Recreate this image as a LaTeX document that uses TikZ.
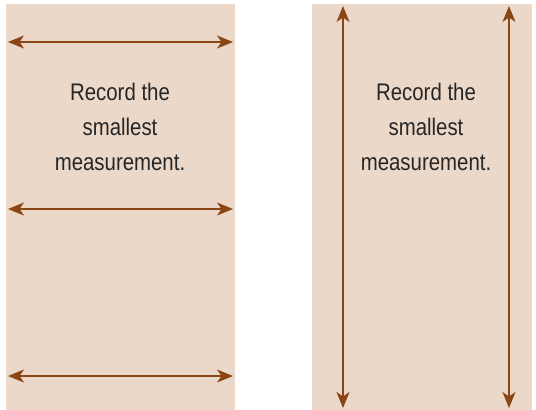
\documentclass[tikz,border=0pt]{standalone}
\usepackage{fontspec}
\setmainfont[FakeStretch=0.85]{Liberation Sans}
\usepackage{tikz}
\usetikzlibrary{arrows.meta}
\definecolor{panelfill}{RGB}{236,216,201}
\definecolor{rulebrown}{RGB}{139,70,22}

\begin{document}
\begin{tikzpicture}[x=1pt, y=-1pt,
  panel/.style={fill=panelfill, draw=none},
  meas/.style={{Stealth[length=16pt,width=13pt,inset=4.5pt]}-{Stealth[length=16pt,width=13pt,inset=4.5pt]},
               draw=rulebrown, line width=1.8pt},
  note/.style={font=\fontsize{24}{35}\selectfont, align=center, text=black!85},
]
\useasboundingbox (0,0) rectangle (536,410);
% Panels
\path[panel] (6,4) rectangle (235,410);
\path[panel] (312,4) rectangle (532,410);
% Left panel: horizontal measurements
\coordinate (l1w) at (8,42);   \coordinate (l1e) at (233,42);
\coordinate (l2w) at (8,209);  \coordinate (l2e) at (233,209);
\coordinate (l3w) at (8,376);  \coordinate (l3e) at (233,376);
\draw[meas] (l1w) -- (l1e);
\draw[meas] (l2w) -- (l2e);
\draw[meas] (l3w) -- (l3e);
% Right panel: vertical measurements
\coordinate (r1n) at (343,6);  \coordinate (r1s) at (343,408);
\coordinate (r2n) at (509,6);  \coordinate (r2s) at (509,408);
\draw[meas] (r1n) -- (r1s);
\draw[meas] (r2n) -- (r2s);
% Notes
\node[note] (noteL) at (120,127) {Record the\\smallest\\measurement.};
\node[note] (noteR) at (426,127) {Record the\\smallest\\measurement.};
\end{tikzpicture}
\end{document}
